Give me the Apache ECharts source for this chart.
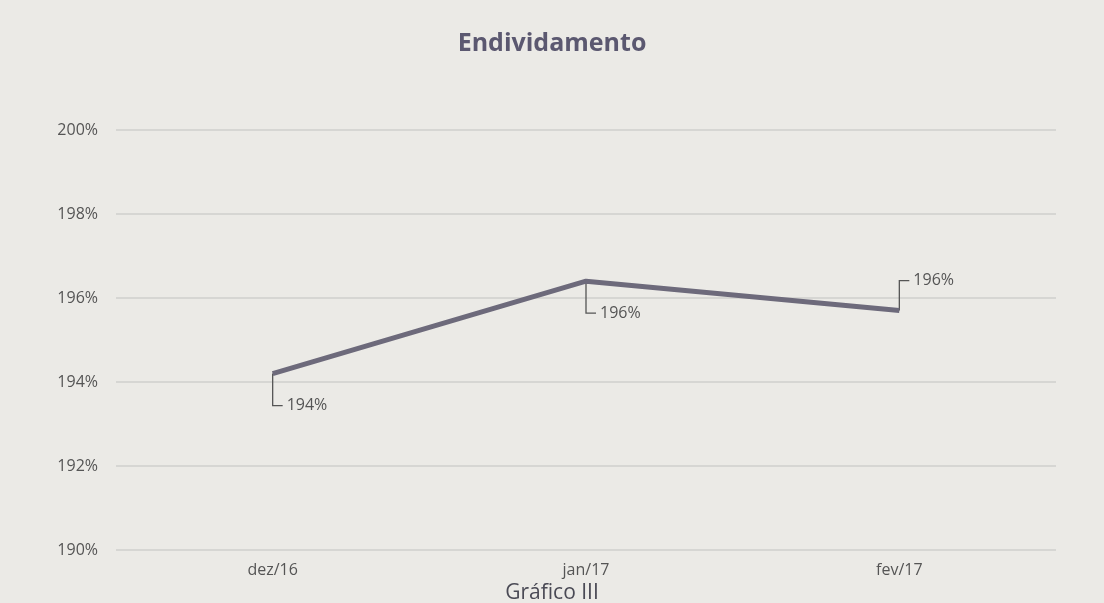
<!DOCTYPE html>
<html>
<head>
<meta charset="utf-8">
<script src="https://cdn.jsdelivr.net/npm/echarts@6/dist/echarts.min.js"></script>
<style>
  html, body { margin: 0; padding: 0; background: #ebeae6; }
  #main { width: 1104px; height: 603px; }
</style>
</head>
<body>
<div id="main"></div>
<script>
// dados
var meses = ['dez/16', 'jan/17', 'fev/17'];
var endividamento = [194.2, 196.4, 195.7];
var eixoMin = 190;
var eixoMax = 200;
var eixoPasso = 2;

var myChart = echarts.init(document.getElementById('main'));

// rótulo com linha de chamada em "L" (como no Excel)
function rotulo(params, api) {
    var i = api.value(0);
    var v = api.value(1);
    var p = api.coord([i, v]);
    var up = params.dataIndex === 2;
    var dy = up ? -30 : 32;
    return {
        type: 'group',
        children: [{
            type: 'polyline',
            shape: { points: [[p[0], p[1]], [p[0], p[1] + dy], [p[0] + 10, p[1] + dy]] },
            style: { stroke: '#555', lineWidth: 1.3, fill: null }
        }, {
            type: 'text',
            x: p[0] + 14,
            y: p[1] + dy,
            style: {
                text: Math.round(v) + '%',
                fontFamily: 'Open Sans',
                fontSize: 16,
                fill: '#555',
                verticalAlign: 'middle'
            }
        }]
    };
}

var option = {
    backgroundColor: '#ebeae6',
    title: [{
        text: 'Endividamento',
        left: 'center',
        top: 26,
        textStyle: { fontFamily: 'Open Sans', fontSize: 25, fontWeight: 'bold', color: '#5b5870' }
    }, {
        text: 'Gráfico III',
        left: 'center',
        top: 578,
        textStyle: { fontFamily: 'Open Sans', fontSize: 21, fontWeight: 'normal', color: '#4a4a55' }
    }],
    grid: { left: 116, right: 48, top: 130, bottom: 53 },
    xAxis: {
        type: 'category',
        data: meses,
        boundaryGap: true,
        axisLine: { show: false },
        axisTick: { show: false },
        axisLabel: { fontFamily: 'Open Sans', fontSize: 16, color: '#555', margin: 12 }
    },
    yAxis: {
        type: 'value',
        min: eixoMin,
        max: eixoMax,
        interval: eixoPasso,
        axisLine: { show: false },
        axisTick: { show: false },
        axisLabel: {
            fontFamily: 'Open Sans', fontSize: 16, color: '#555', margin: 18,
            formatter: function (v) { return v + '%'; }
        },
        splitLine: { lineStyle: { color: '#cfcfcc', width: 1.5 } }
    },
    series: [{
        type: 'line',
        data: endividamento,
        symbol: 'none',
        lineStyle: { color: '#6d6a7b', width: 5 },
        z: 3
    }, {
        type: 'custom',
        data: endividamento.map(function (v, i) { return [i, v]; }),
        renderItem: rotulo,
        z: 2
    }]
};

myChart.setOption(option);
</script>
</body>
</html>
